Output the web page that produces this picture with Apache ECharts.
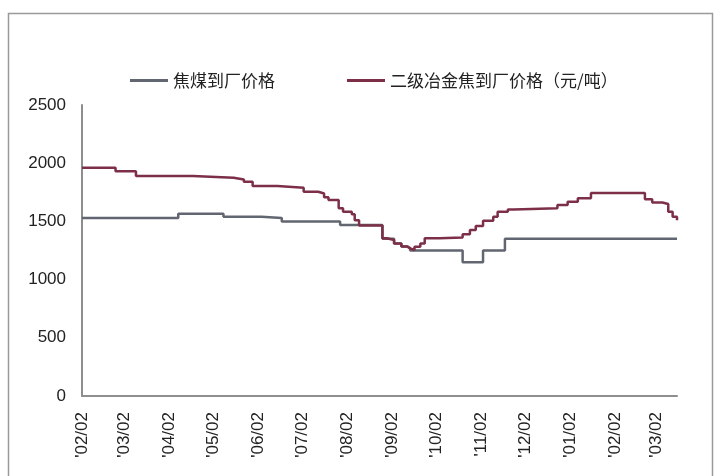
<!DOCTYPE html>
<html>
<head>
<meta charset="utf-8">
<script src="https://cdn.jsdelivr.net/npm/echarts@6/dist/echarts.min.js"></script>
<style>
  html, body { margin: 0; padding: 0; background: #fff; }
  #chart { width: 720px; height: 476px; }
</style>
</head>
<body>
<div id="chart"></div>
<script>
// 焦煤 / 二级冶金焦 到厂价格 (元/吨), 价格变动日 -> 价格
var seriesNames = ['焦煤到厂价格', '二级冶金焦到厂价格（元/吨）'];

var coalDates = ['2008-02-02', '2008-04-08', '2008-05-09', '2008-06-04', '2008-06-18', '2008-07-28',
  '2008-08-26', '2008-09-03', '2008-09-08', '2008-09-12', '2008-09-14', '2008-10-20', '2008-11-03',
  '2008-11-18', '2009-03-16'];
var coalPrices = [1530, 1565, 1540, 1530, 1500, 1470,
  1350, 1310, 1285, 1270, 1250, 1150, 1250,
  1350, 1350];

var cokeDates = ['2008-02-02', '2008-02-25', '2008-03-10', '2008-04-18', '2008-05-16', '2008-05-23',
  '2008-05-29', '2008-06-15', '2008-07-03', '2008-07-13', '2008-07-17', '2008-07-20', '2008-07-27',
  '2008-07-30', '2008-08-05', '2008-08-07', '2008-08-10', '2008-08-26', '2008-08-29', '2008-09-03',
  '2008-09-08', '2008-09-12', '2008-09-14', '2008-09-17', '2008-09-21', '2008-09-24', '2008-10-04',
  '2008-10-20', '2008-10-25', '2008-10-29', '2008-11-03', '2008-11-10', '2008-11-13', '2008-11-20',
  '2008-11-24', '2008-12-24', '2008-12-31', '2009-01-07', '2009-01-16', '2009-02-22', '2009-02-27',
  '2009-03-06', '2009-03-10', '2009-03-13', '2009-03-16'];
var cokePrices = [1960, 1930, 1890, 1875, 1860, 1840,
  1805, 1790, 1755, 1740, 1707, 1683, 1612,
  1583, 1562, 1510, 1465, 1355, 1340, 1310,
  1285, 1268, 1254, 1283, 1311, 1355, 1362,
  1390, 1426, 1460, 1505, 1540, 1583, 1603,
  1612, 1640, 1669, 1698, 1745, 1690, 1663,
  1650, 1583, 1540, 1510];

var tickDates = ['2008-02-02', '2008-03-02', '2008-04-02', '2008-05-02', '2008-06-02', '2008-07-02',
  '2008-08-02', '2008-09-02', '2008-10-02', '2008-11-02', '2008-12-02', '2009-01-02', '2009-02-02',
  '2009-03-02'];
var tickLabels = ["'02/02", "'03/02", "'04/02", "'05/02", "'06/02", "'07/02", "'08/02", "'09/02",
  "'10/02", "'11/02", "'12/02", "'01/02", "'02/02", "'03/02"];

var startDate = '2008-02-02', endDate = '2009-03-16';

// days since startDate
function toDay(s) {
  var p = s.split('-'), q = startDate.split('-');
  return Math.round((Date.UTC(+p[0], +p[1] - 1, +p[2]) - Date.UTC(+q[0], +q[1] - 1, +q[2])) / 86400000);
}
function pairs(dates, vals) {
  return dates.map(function (d, i) { return [toDay(d), vals[i]]; });
}
var tickDays = tickDates.map(toDay);

var chart = echarts.init(document.getElementById('chart'), null, { renderer: 'canvas' });
chart.setOption({
  animation: false,
  backgroundColor: '#fff',
  textStyle: { fontFamily: 'Liberation Sans, Arial, sans-serif' },
  graphic: [{
    type: 'rect',
    shape: { x: 8.5, y: 13.5, width: 704, height: 500 },
    style: { fill: 'none', stroke: '#9a9a9a', lineWidth: 1.5 },
    silent: true
  }],
  legend: {
    left: 125,
    top: 67,
    itemWidth: 38,
    itemHeight: 3,
    itemGap: 72,
    icon: 'rect',
    textStyle: { fontSize: 17, color: '#222', fontFamily: 'Noto Sans CJK SC' },
    data: seriesNames
  },
  grid: { left: 82, right: 43, top: 105, bottom: 80 },
  xAxis: {
    type: 'value',
    min: 0,
    max: toDay(endDate),
    axisLine: { lineStyle: { color: '#8e8e8e', width: 2 } },
    axisTick: { show: false },
    splitLine: { show: false },
    axisLabel: {
      customValues: tickDays,
      rotate: 90,
      margin: 16,
      fontSize: 17,
      color: '#222',
      formatter: function (v) {
        var i = tickDays.indexOf(v);
        return i >= 0 ? tickLabels[i] : '';
      }
    }
  },
  yAxis: {
    type: 'value',
    min: 0,
    max: 2500,
    interval: 500,
    axisLine: { show: true, lineStyle: { color: '#8e8e8e', width: 2 } },
    axisTick: { show: false },
    splitLine: { show: false },
    axisLabel: {
      fontSize: 17, color: '#222', margin: 16,
      formatter: function (v) { return String(v); }
    }
  },
  series: [{
    name: seriesNames[0],
    type: 'line',
    step: 'end',
    showSymbol: false,
    color: '#626671',
    lineStyle: { width: 2.5, color: '#626671' },
    data: pairs(coalDates, coalPrices)
  }, {
    name: seriesNames[1],
    type: 'line',
    step: 'end',
    showSymbol: false,
    color: '#7d2f48',
    lineStyle: { width: 2.5, color: '#7d2f48' },
    data: pairs(cokeDates, cokePrices)
  }]
});
</script>
</body>
</html>
